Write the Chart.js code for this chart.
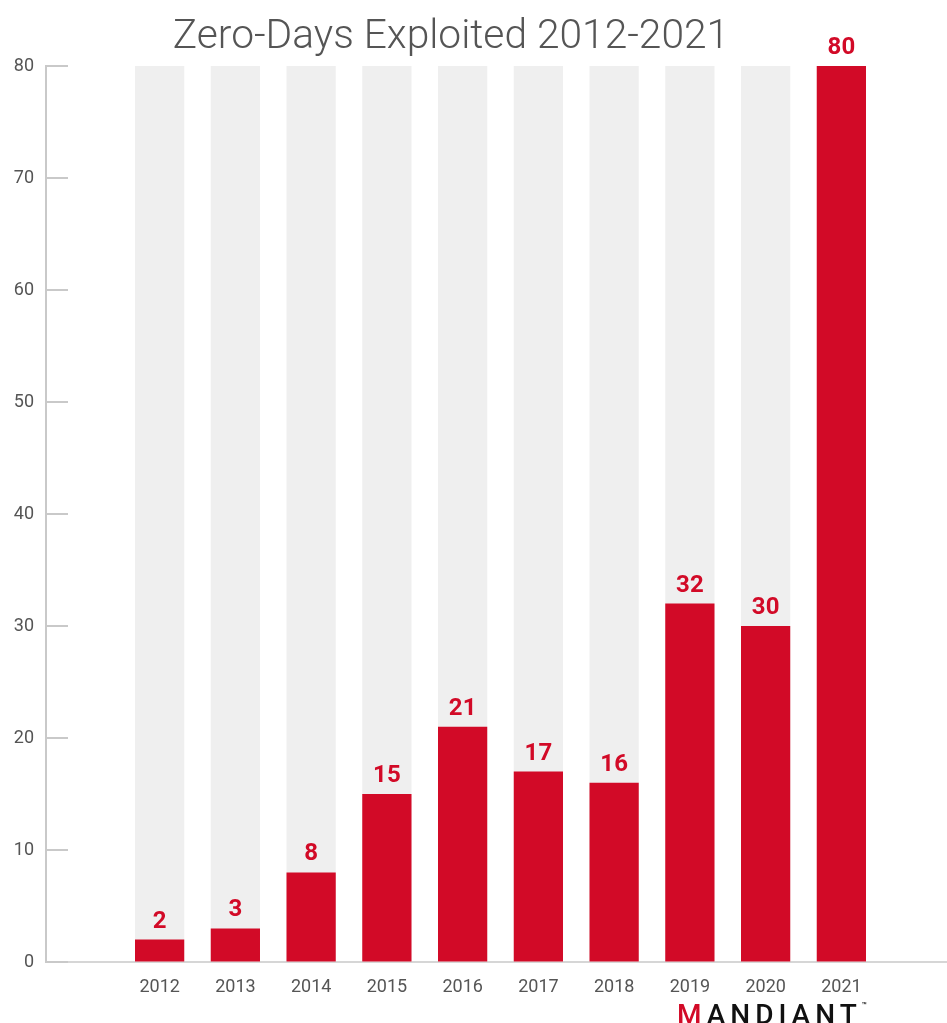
<!DOCTYPE html>
<html>
<head>
<meta charset="utf-8">
<title>Zero-Days Exploited 2012-2021</title>
<script src="https://cdn.jsdelivr.net/npm/chart.js@4.4.1/dist/chart.umd.min.js"></script>
<style>
  html, body { margin: 0; padding: 0; background: #fff; overflow: hidden; width: 947px; height: 1023px; }
  #wrap { position: relative; width: 947px; height: 1023px; overflow: hidden; }
  #chart { display: block; }
  #logo {
    position: absolute; left: 677px; top: 1001px;
    font: 500 28px Roboto, sans-serif; line-height: 1;
    letter-spacing: 5px; color: #111; white-space: nowrap;
  }
  #logo .m { color: #d20a27; }
  #logo sup { font-size: 8px; letter-spacing: 0; vertical-align: 16px; }
</style>
</head>
<body>
<div id="wrap">
  <canvas id="chart" width="956" height="1023"></canvas>
  <div id="logo"><span class="m">M</span>ANDIANT<sup>™</sup></div>
</div>
<script>
const tytul = "Zero-Days Exploited 2012-2021";
const lata = ["2012", "2013", "2014", "2015", "2016", "2017", "2018", "2019", "2020", "2021"];
const zeroDays = [2, 3, 8, 15, 21, 17, 16, 32, 30, 80];
const tlo = [80, 80, 80, 80, 80, 80, 80, 80, 80, 80]; // szare "tory" pod slupkami
const yMax = 80;
const yKrok = 10;

const czerwony = "#d20a27";
const szary = "#efefef";
const osKolor = "#c9c9c9";
const tekstKolor = "#555555";

// pusta kategoria z kazdej strony, tak jak na oryginale
const etykiety = [""].concat(lata, [""]);
const wartosci = [null].concat(zeroDays, [null]);
const wartosciTlo = [null].concat(tlo, [null]);

// krotkie kreski osi Y do srodka wykresu
const kreskiY = {
    id: "kreskiY",
    afterDatasetsDraw(chart) {
        const ctx = chart.ctx;
        const y = chart.scales.y;
        const left = chart.chartArea.left;
        ctx.save();
        ctx.strokeStyle = osKolor;
        ctx.lineWidth = 2;
        y.ticks.forEach(t => {
            const py = Math.round(y.getPixelForValue(t.value));
            ctx.beginPath();
            ctx.moveTo(left, py);
            ctx.lineTo(left + 22, py);
            ctx.stroke();
        });
        ctx.restore();
    }
};

// liczby nad slupkami
const liczby = {
    id: "liczby",
    afterDatasetsDraw(chart) {
        const ctx = chart.ctx;
        const meta = chart.getDatasetMeta(0);
        ctx.save();
        ctx.fillStyle = czerwony;
        ctx.font = "700 24px Roboto, sans-serif";
        ctx.textAlign = "center";
        ctx.textBaseline = "alphabetic";
        meta.data.forEach((bar, i) => {
            const v = chart.data.datasets[0].data[i];
            if (v === null) return;
            ctx.fillText(String(v), bar.x, bar.y - 12);
        });
        ctx.restore();
    }
};

// tytul (nie jest wysrodkowany na canvasie)
const naglowek = {
    id: "naglowek",
    afterDraw(chart) {
        const ctx = chart.ctx;
        ctx.save();
        ctx.fillStyle = tekstKolor;
        ctx.font = "300 40.7px Roboto, sans-serif";
        ctx.textAlign = "center";
        ctx.textBaseline = "alphabetic";
        ctx.fillText(tytul, 451, 48);
        ctx.restore();
    }
};

const chart = new Chart(document.getElementById("chart"), {
    type: "bar",
    data: {
        labels: etykiety,
        datasets: [
            {
                label: "Zero-Days",
                data: wartosci,
                backgroundColor: czerwony,
                barPercentage: 0.65,
                categoryPercentage: 1,
                grouped: false,
                order: 0
            },
            {
                label: "tlo",
                data: wartosciTlo,
                backgroundColor: szary,
                barPercentage: 0.65,
                categoryPercentage: 1,
                grouped: false,
                order: 1
            }
        ]
    },
    options: {
        responsive: false,
        animation: false,
        layout: { padding: { top: 66, bottom: 21, left: 1, right: 1 } },
        plugins: {
            legend: { display: false },
            tooltip: { enabled: false },
            title: { display: false }
        },
        scales: {
            x: {
                grid: { display: false, drawTicks: false },
                border: { color: "#d6d6d6", width: 2 },
                ticks: {
                    color: tekstKolor,
                    font: { family: "Roboto", size: 18, weight: "400" },
                    padding: 15,
                    maxRotation: 0,
                    autoSkip: false
                },
                afterFit: s => { s.height = 40; }
            },
            y: {
                min: 0,
                max: yMax,
                grid: { drawOnChartArea: false, drawTicks: false },
                border: { color: osKolor, width: 2 },
                ticks: {
                    stepSize: yKrok,
                    color: tekstKolor,
                    font: { family: "Roboto", size: 18, weight: "400" },
                    padding: 12
                },
                afterFit: s => { s.width = 45; }
            }
        }
    },
    plugins: [kreskiY, liczby, naglowek]
});
</script>
</body>
</html>
